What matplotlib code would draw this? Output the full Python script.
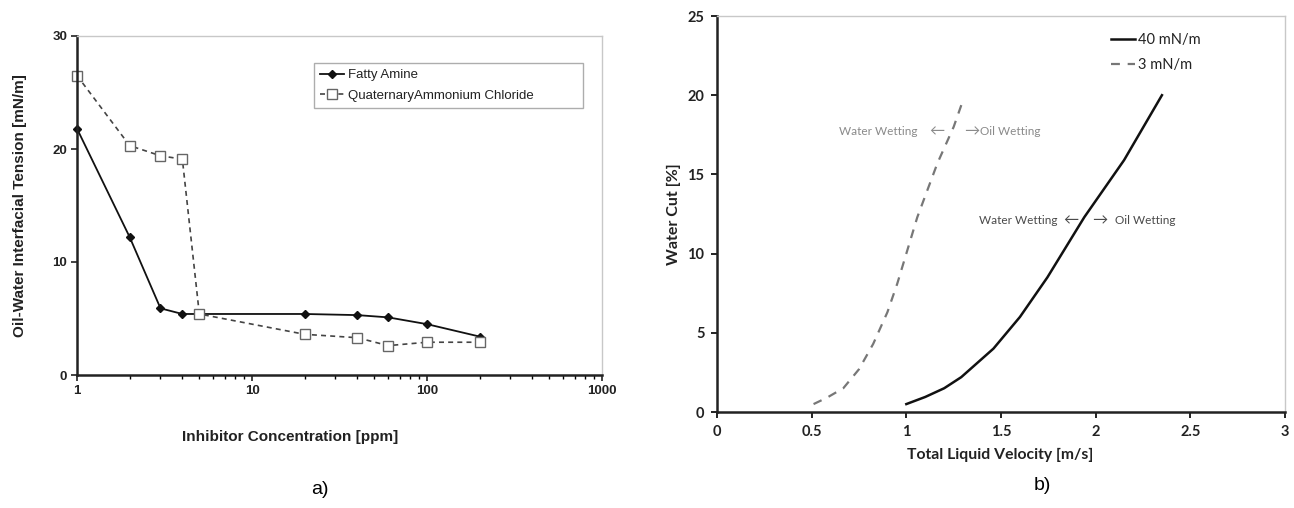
import matplotlib.pyplot as plt
from matplotlib.ticker import FixedLocator, NullFormatter

# interfacial tension vs inhibitor concentration
amine_ppm = [1, 2, 3, 4, 20, 40, 60, 100, 200]
amine_ift = [21.8, 12.2, 5.9, 5.4, 5.4, 5.3, 5.1, 4.5, 3.4]
quat_ppm = [1, 2, 3, 4, 5, 20, 40, 60, 100, 200]
quat_ift = [26.5, 20.3, 19.4, 19.1, 5.4, 3.6, 3.3, 2.6, 2.9, 2.9]

# water wetting / oil wetting transition lines
vel_40 = [1.0, 1.1, 1.2, 1.29, 1.46, 1.6, 1.745, 1.94, 2.15, 2.35]
cut_40 = [0.5, 0.95, 1.5, 2.2, 4.0, 6.0, 8.5, 12.3, 15.9, 20.0]
vel_3 = [0.51, 0.58, 0.667, 0.75, 0.825, 0.9, 0.952, 1.058, 1.164, 1.25, 1.3]
cut_3 = [0.5, 0.9, 1.5, 2.7, 4.3, 6.3, 8.1, 12.3, 15.7, 18.0, 19.7]

W, H = 1294, 508
fig = plt.figure(figsize=(W / 100, H / 100), dpi=100)

def frame(ax):
    for s in ['left', 'bottom']:
        ax.spines[s].set_linewidth(1.8)
        ax.spines[s].set_color('#222222')
    for s in ['top', 'right']:
        ax.spines[s].set_linewidth(1.0)
        ax.spines[s].set_color('#c8c8c8')

# ---- left panel -----------------------------------------------------
arial = 'Liberation Sans'
ax1 = fig.add_axes([77 / W, 1 - 375 / H, (602 - 77) / W, (375 - 36) / H])
ax1.plot(amine_ppm, amine_ift, '-', color='#111111', lw=1.3, marker='D',
         ms=4.5, mfc='#111111', mec='#111111', label='Fatty Amine', clip_on=False)
ax1.plot(quat_ppm, quat_ift, '--', color='#444444', lw=1.2, dashes=(3, 2.5),
         marker='s', ms=7, mfc='white', mec='#666666', mew=1.0,
         label='QuaternaryAmmonium Chloride', clip_on=False)
ax1.set_xscale('log')
ax1.set_xlim(1, 1000)
ax1.set_ylim(0, 30)
ax1.set_yticks([0, 10, 20, 30])
ax1.xaxis.set_major_locator(FixedLocator([1, 10, 100, 1000]))
ax1.set_xticklabels(['1', '10', '100', '1000'])
ax1.xaxis.set_minor_locator(FixedLocator([k * 10 ** e for e in range(3) for k in range(2, 10)]))
ax1.xaxis.set_minor_formatter(NullFormatter())
ax1.tick_params(axis='both', which='major', direction='out', length=4, width=1.2,
                labelsize=9.5, colors='#222222', pad=3)
ax1.tick_params(axis='x', which='minor', direction='out', length=3, width=1.0)
ax1.tick_params(top=False, right=False, which='both')
for lab in ax1.get_xticklabels() + ax1.get_yticklabels():
    lab.set_fontfamily(arial)
    lab.set_fontweight('bold')
frame(ax1)
ax1.set_ylabel('Oil-Water Interfacial Tension [mN/m]', family=arial,
               fontweight='bold', fontsize=11, color='#222222', labelpad=18)
leg1 = ax1.legend(loc='upper left', bbox_to_anchor=(0.438, 0.802, 0.539, 0.139),
                  mode='expand', fancybox=False, edgecolor='#999999',
                  prop={'family': arial, 'size': 9.5}, handlelength=1.8,
                  handletextpad=0.3, borderpad=0.5, labelspacing=0.6)
leg1.get_frame().set_linewidth(1.0)
for t in leg1.get_texts():
    t.set_color('#222222')
fig.text(290 / W, 1 - 437 / H, 'Inhibitor Concentration [ppm]', family=arial,
         fontweight='bold', fontsize=11, ha='center', va='center', color='#222222')
fig.text(320 / W, 1 - 490 / H, 'a)', family=arial, fontsize=14, ha='center', va='center')

# ---- right panel ----------------------------------------------------
cal = 'Lato'
ax2 = fig.add_axes([717 / W, 1 - 412 / H, (1285 - 717) / W, (412 - 16) / H])
ax2.plot(vel_40, cut_40, '-', color='#111111', lw=1.8, label='40 mN/m')
ax2.plot(vel_3, cut_3, '--', color='#777777', lw=1.6, dashes=(4, 3.5), label='3 mN/m')
ax2.set_xlim(0, 3)
ax2.set_ylim(0, 25)
ax2.set_xticks([0, 0.5, 1, 1.5, 2, 2.5, 3])
ax2.set_xticklabels(['0', '0.5', '1', '1.5', '2', '2.5', '3'])
ax2.set_yticks([0, 5, 10, 15, 20, 25])
ax2.tick_params(axis='both', direction='out', length=4, width=1.4,
                labelsize=10.5, colors='#222222', pad=5)
ax2.tick_params(top=False, right=False)
for lab in ax2.get_xticklabels() + ax2.get_yticklabels():
    lab.set_fontfamily(cal)
    lab.set_fontweight('bold')
frame(ax2)
ax2.set_ylabel('Water Cut [%]', family=cal, fontweight='bold', fontsize=11.5,
               color='#222222', labelpad=5)
fig.text(1000 / W, 1 - 455 / H, 'Total Liquid Velocity [m/s]', family=cal,
         fontweight='bold', fontsize=11.3, ha='center', va='center', color='#222222')
fig.text(1042 / W, 1 - 486 / H, 'b)', family=arial, fontsize=14, ha='center', va='center')
leg2 = ax2.legend(loc='upper left', bbox_to_anchor=(0.67, 0.99), frameon=False,
                  prop={'family': cal, 'size': 10.5}, handlelength=1.7,
                  handletextpad=0.15, labelspacing=0.75)
for t in leg2.get_texts():
    t.set_color('#222222')

fam = [cal, 'DejaVu Sans']
light, dark = '#8a8a8a', '#4a4a4a'
ax2.text(1.058, 17.7, 'Water Wetting', family=fam, fontsize=8.5, color=light,
         ha='right', va='center')
ax2.text(1.16, 17.7, '\u2190', family=fam, fontsize=11, color=light, ha='center', va='center')
ax2.text(1.345, 17.7, '\u2192', family=fam, fontsize=11, color=light, ha='center', va='center')
ax2.text(1.39, 17.7, 'Oil Wetting', family=fam, fontsize=8.5, color=light,
         ha='left', va='center')
ax2.text(1.80, 12.1, 'Water Wetting', family=fam, fontsize=8.5, color=dark,
         ha='right', va='center')
ax2.text(1.87, 12.1, '\u2190', family=fam, fontsize=11, color=dark, ha='center', va='center')
ax2.text(2.02, 12.1, '\u2192', family=fam, fontsize=11, color=dark, ha='center', va='center')
ax2.text(2.10, 12.1, 'Oil Wetting', family=fam, fontsize=8.5, color=dark,
         ha='left', va='center')

fig.savefig('out.png', dpi=100)
